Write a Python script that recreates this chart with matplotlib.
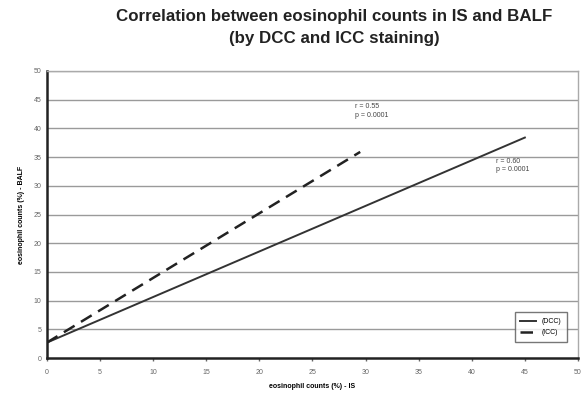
import matplotlib
matplotlib.use("Agg")
import matplotlib.pyplot as plt

plt.rcParams['font.family'] = ['Liberation Sans', 'DejaVu Sans']

# regression lines: endpoints in IS (%) and BALF (%)
dcc_x = [0, 45]
dcc_y = [2.7, 38.4]
icc_x = [0, 29.5]
icc_y = [2.7, 35.9]

x_ticks = list(range(0, 55, 5))
y_ticks = list(range(0, 55, 5))

icc_note = "r = 0.55\np = 0.0001"
dcc_note = "r = 0.60\np = 0.0001"

fig = plt.figure(figsize=(5.85, 3.94), dpi=100)
ax = fig.add_axes([0.080, 0.091, 0.908, 0.729])

for y in y_ticks[1:]:
    ax.axhline(y, color='#9a9a9a', lw=1.0, zorder=0)

ax.plot(dcc_x, dcc_y, color='#333333', lw=1.4, label='(DCC)')
ax.plot(icc_x, icc_y, color='#222222', lw=1.8, ls=(0, (5, 3)), label='(ICC)')

ax.set_xlim(0, 50)
ax.set_ylim(0, 50)
ax.set_xticks(x_ticks)
ax.set_yticks(y_ticks)
ax.tick_params(axis='both', labelsize=5, colors='#666666', length=2, width=1)
ax.tick_params(axis='x', pad=6)
ax.tick_params(axis='y', length=0, pad=4)

for side in ('left', 'bottom'):
    ax.spines[side].set_color('#222222')
    ax.spines[side].set_linewidth(1.8)
for side in ('top', 'right'):
    ax.spines[side].set_color('#aaaaaa')
    ax.spines[side].set_linewidth(1.0)

ax.text(29.0, 42.0, icc_note, fontsize=5, color='#444444', linespacing=1.3)
ax.text(42.3, 32.5, dcc_note, fontsize=5, color='#444444', linespacing=1.3)

ax.set_xlabel('eosinophil counts (%) - IS', fontsize=5, fontweight='bold', labelpad=5)
ax.set_ylabel('eosinophil counts (%) - BALF', fontsize=5, fontweight='bold', labelpad=6)

leg = ax.legend(loc='lower right', bbox_to_anchor=(0.985, 0.045), fontsize=5,
                frameon=True, fancybox=False, handlelength=2.2, borderpad=0.8,
                labelspacing=0.6)
leg.get_frame().set_edgecolor('#555555')
leg.get_frame().set_linewidth(1.0)

fig.text(0.571, 0.978, 'Correlation between eosinophil counts in IS and BALF\n(by DCC and ICC staining)',
         ha='center', va='top', fontsize=12.2, fontweight='bold', color='#222222',
         linespacing=1.65)

fig.savefig('out.png', dpi=100)
